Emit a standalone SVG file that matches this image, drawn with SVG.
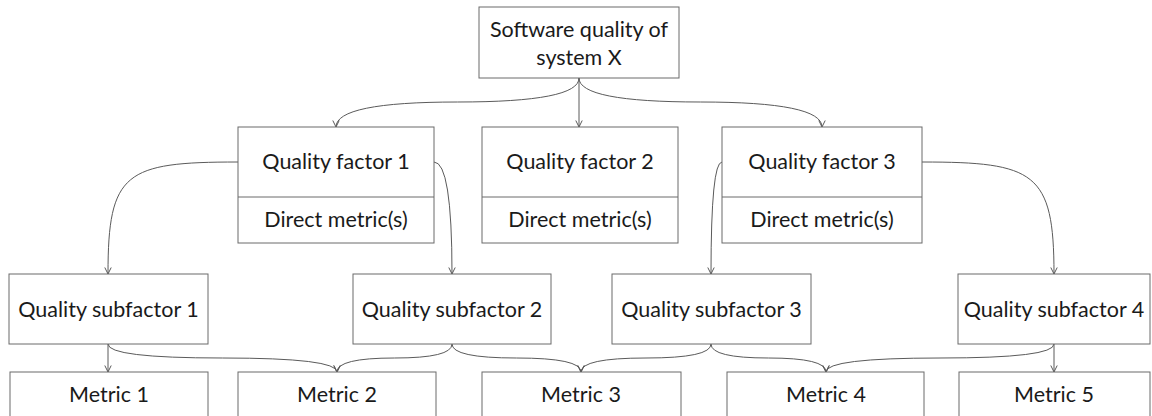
<svg xmlns="http://www.w3.org/2000/svg" width="1152" height="416" viewBox="0 0 1152 416">
<style>
.box{fill:#fff;stroke:#6a6a6a;stroke-width:1}
.div{stroke:#6a6a6a;stroke-width:1}
.t{font-family:Lato,"Liberation Sans",sans-serif;font-size:21.5px;fill:#1a1a1a;text-anchor:middle}
.c{fill:none;stroke:#5a5a5a;stroke-width:1;marker-end:url(#arr)}
</style>
<defs>
<marker id="arr" viewBox="0 0 8 8" refX="7.5" refY="4" markerWidth="8" markerHeight="8" markerUnits="userSpaceOnUse" orient="auto">
<path d="M1,0.8 L7.5,4 L1,7.2" fill="none" stroke="#5a5a5a" stroke-width="1"/>
</marker>
</defs>
<rect width="1152" height="416" fill="#fff"/>
<g id="connectors">
<path class="c" d="M579,78 L579,127"/>
<path class="c" d="M579,78 Q579,102 457.5,102 Q336,102 336,127"/>
<path class="c" d="M579,78 Q579,102 700.5,102 Q822,102 822,127"/>
<path class="c" d="M238,162 C125,162 108,172 108,274"/>
<path class="c" d="M434,162 Q452,162 452,274"/>
<path class="c" d="M722,162 Q711,162 711,274"/>
<path class="c" d="M922,162 C1035,162 1054,172 1054,274"/>
<path class="c" d="M108,344 L108,372"/>
<path class="c" d="M108,344 Q108,358 222.5,358 Q337,358 337,372"/>
<path class="c" d="M452,344 Q452,358 394.5,358 Q337,358 337,372"/>
<path class="c" d="M452,344 Q452,358 516.5,358 Q581,358 581,372"/>
<path class="c" d="M711,344 Q711,358 646,358 Q581,358 581,372"/>
<path class="c" d="M711,344 Q711,358 768.5,358 Q826,358 826,372"/>
<path class="c" d="M1054,344 Q1054,358 940,358 Q826,358 826,372"/>
<path class="c" d="M1054,344 L1054,372"/>
</g>
<g id="top">
<rect class="box" x="479" y="7" width="200" height="71"/>
<text class="t" x="579" y="37">Software quality of</text>
<text class="t" x="579" y="65">system X</text>
</g>
<g id="qf1">
<rect class="box" x="238" y="127" width="196" height="116"/>
<line class="div" x1="238" y1="197" x2="434" y2="197"/>
<text class="t" x="336" y="169">Quality factor 1</text>
<text class="t" x="336" y="227">Direct metric(s)</text>
</g>
<g id="qf2">
<rect class="box" x="482" y="127" width="196" height="116"/>
<line class="div" x1="482" y1="197" x2="678" y2="197"/>
<text class="t" x="580" y="169">Quality factor 2</text>
<text class="t" x="580" y="227">Direct metric(s)</text>
</g>
<g id="qf3">
<rect class="box" x="722" y="127" width="200" height="116"/>
<line class="div" x1="722" y1="197" x2="922" y2="197"/>
<text class="t" x="822" y="169">Quality factor 3</text>
<text class="t" x="822" y="227">Direct metric(s)</text>
</g>
<g id="qs1">
<rect class="box" x="9" y="274" width="199" height="70"/>
<text class="t" x="108.5" y="317">Quality subfactor 1</text>
</g>
<g id="qs2">
<rect class="box" x="353" y="274" width="198" height="70"/>
<text class="t" x="452" y="317">Quality subfactor 2</text>
</g>
<g id="qs3">
<rect class="box" x="612" y="274" width="199" height="70"/>
<text class="t" x="711.5" y="317">Quality subfactor 3</text>
</g>
<g id="qs4">
<rect class="box" x="958" y="274" width="192" height="70"/>
<text class="t" x="1054" y="317">Quality subfactor 4</text>
</g>
<g id="m1">
<rect class="box" x="10" y="372" width="198" height="70"/>
<text class="t" x="109" y="402">Metric 1</text>
</g>
<g id="m2">
<rect class="box" x="238" y="372" width="198" height="70"/>
<text class="t" x="337" y="402">Metric 2</text>
</g>
<g id="m3">
<rect class="box" x="482" y="372" width="199" height="70"/>
<text class="t" x="581" y="402">Metric 3</text>
</g>
<g id="m4">
<rect class="box" x="727" y="372" width="197" height="70"/>
<text class="t" x="826" y="402">Metric 4</text>
</g>
<g id="m5">
<rect class="box" x="959" y="372" width="191" height="70"/>
<text class="t" x="1054" y="402">Metric 5</text>
</g>
</svg>
